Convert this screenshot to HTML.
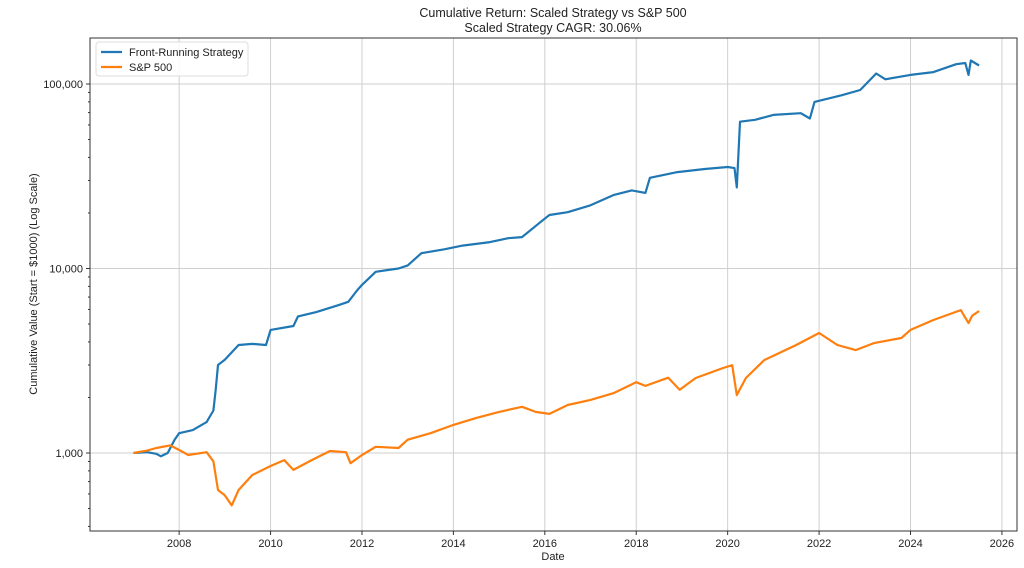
<!DOCTYPE html>
<html><head><meta charset="utf-8"><style>
html,body{margin:0;padding:0;background:#fff;}
svg{display:block;font-family:"Liberation Sans","DejaVu Sans",sans-serif;}
</style></head><body>
<svg id="chart" width="1024" height="568">
<text x="553" y="17" text-anchor="middle" font-size="12.5" fill="#222">Cumulative Return: Scaled Strategy vs S&amp;P 500</text>
<text x="553" y="32" text-anchor="middle" font-size="12.5" fill="#222">Scaled Strategy CAGR: 30.06%</text>
<g id="grid"></g>
<g id="series"></g>
<g id="axes"></g>
<text x="553" y="560" text-anchor="middle" font-size="11" fill="#222">Date</text>
<text transform="translate(37,284) rotate(-90)" text-anchor="middle" font-size="11" fill="#222">Cumulative Value (Start = $1000) (Log Scale)</text>
<g>
<rect x="96" y="42" width="152" height="34" rx="3" fill="#fff" fill-opacity="0.85" stroke="#ddd"/>
<line x1="101" y1="52" x2="122" y2="52" stroke="#1f77b4" stroke-width="2.2"/>
<text x="129" y="56" font-size="11" fill="#222">Front-Running Strategy</text>
<line x1="101" y1="67" x2="122" y2="67" stroke="#ff7f0e" stroke-width="2.2"/>
<text x="129" y="71" font-size="11" fill="#222">S&amp;P 500</text>
</g>
</svg>
<script>
const xTicks = [2008,2010,2012,2014,2016,2018,2020,2022,2024,2026];
const yTicks = [1000,10000,100000];
const yTickLabels = ["1,000","10,000","100,000"];
const stratDates = [2007.0,2007.3,2007.5,2007.6,2007.75,2007.9,2008.0,2008.3,2008.6,2008.75,2008.8,2008.85,2009.0,2009.3,2009.6,2009.9,2010.0,2010.5,2010.6,2011.0,2011.5,2011.7,2011.9,2012.0,2012.3,2012.8,2013.0,2013.3,2013.8,2014.2,2014.8,2015.2,2015.5,2015.9,2016.1,2016.5,2017.0,2017.5,2017.9,2018.2,2018.3,2018.9,2019.5,2020.0,2020.15,2020.2,2020.27,2020.6,2021.0,2021.6,2021.8,2021.9,2022.5,2022.9,2023.25,2023.45,2024.0,2024.5,2025.0,2025.2,2025.27,2025.32,2025.5];
const stratValues = [1000,1010,990,960,1000,1180,1280,1330,1470,1700,2200,3000,3200,3850,3900,3850,4650,4880,5500,5800,6350,6600,7650,8150,9600,10000,10400,12100,12700,13300,13900,14600,14800,17800,19500,20200,22000,25000,26500,25700,31000,33300,34600,35500,35000,27500,62500,64000,68000,69500,65000,80000,87000,92800,114000,106000,112000,116000,128000,130000,112000,134000,126000];
const spDates = [2007.0,2007.3,2007.5,2007.8,2008.0,2008.2,2008.6,2008.75,2008.85,2009.0,2009.15,2009.3,2009.6,2010.0,2010.3,2010.5,2010.9,2011.3,2011.65,2011.75,2012.0,2012.3,2012.8,2013.0,2013.5,2014.0,2014.5,2015.0,2015.5,2015.8,2016.1,2016.5,2017.0,2017.5,2018.0,2018.2,2018.7,2018.95,2019.3,2019.9,2020.1,2020.2,2020.4,2020.8,2021.5,2022.0,2022.4,2022.8,2023.2,2023.8,2024.0,2024.5,2025.1,2025.27,2025.35,2025.5];
const spValues = [1000,1030,1065,1100,1040,975,1010,900,630,590,520,630,760,850,915,810,915,1025,1010,880,975,1080,1065,1180,1280,1420,1550,1670,1780,1670,1630,1820,1940,2110,2420,2310,2560,2200,2550,2890,2990,2060,2550,3190,3850,4470,3850,3610,3940,4200,4650,5260,5950,5060,5550,5880];

const L=90,R=1017,T=38,B=531;
const x0=2006.05,x1=2026.33;
const xs=y=>L+(y-x0)/(x1-x0)*(R-L);
const ys=v=>453-(Math.log10(v)-3)*184.5;
const NS="http://www.w3.org/2000/svg";
function mk(tag,attrs,parent){const e=document.createElementNS(NS,tag);for(const k in attrs)e.setAttribute(k,attrs[k]);parent.appendChild(e);return e;}
const grid=document.getElementById('grid'),axes=document.getElementById('axes'),series=document.getElementById('series');
xTicks.forEach(t=>{const x=xs(t);
 const g=mk('line',{x1:x,x2:x,y1:T,y2:B,stroke:'#cfcfcf','stroke-width':1},grid);
 
 
 mk('line',{x1:x,x2:x,y1:B,y2:B+4,stroke:'#333'},axes);
 const tx=mk('text',{x:x,y:B+16,'text-anchor':'middle','font-size':11,fill:'#222'},axes);tx.textContent=t;
 
 
});
yTicks.forEach((t,i)=>{const y=ys(t);
 const g=mk('line',{x1:L,x2:R,y1:y,y2:y,stroke:'#cfcfcf','stroke-width':1},grid);
 
 
 mk('line',{x1:L-4,x2:L,y1:y,y2:y,stroke:'#333'},axes);
 const tx=mk('text',{x:L-7,y:y+4,'text-anchor':'end','font-size':11,fill:'#222'},axes);tx.textContent=yTickLabels[i];
 
 
});
for(let d=100;d<=100000;d*=10){for(let m=2;m<=9;m++){const v=d*m;const y=ys(v);if(y>T&&y<B)mk('line',{x1:L-2,x2:L,y1:y,y2:y,stroke:'#333'},axes);}}
const fr=mk('rect',{x:L,y:T,width:R-L,height:B-T,fill:'none',stroke:'#333','stroke-width':1},axes);


function line(d,v,c,name){const p=d.map((t,i)=>(i?'L':'M')+xs(t).toFixed(1)+','+ys(v[i]).toFixed(1)).join('');
 const e=mk('path',{d:p,fill:'none',stroke:c,'stroke-width':2.2,'stroke-linejoin':'round'},series);
 
 }
line(stratDates,stratValues,'#1f77b4','strategy-line');
line(spDates,spValues,'#ff7f0e','sp500-line');
</script>
</body></html>
